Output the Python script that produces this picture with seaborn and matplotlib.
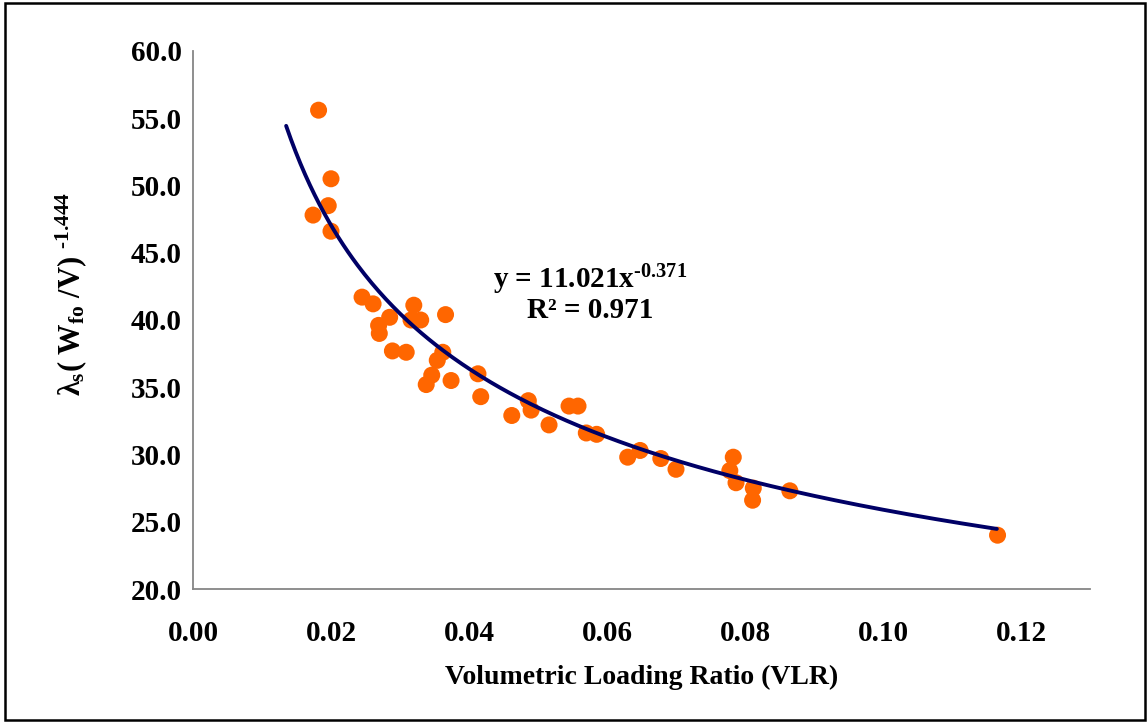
import matplotlib
matplotlib.use("Agg")
import matplotlib.pyplot as plt
import seaborn as sns
import numpy as np
import pandas as pd
from matplotlib.patches import Rectangle

# ---- data ----
vlr = [0.0182, 0.0200, 0.0196, 0.0174, 0.0200, 0.0245, 0.0261, 0.0320, 0.0285,
       0.0316, 0.0330, 0.0366, 0.0269, 0.0270, 0.0289, 0.0309, 0.0362, 0.0354,
       0.0346, 0.0338, 0.0374, 0.0413, 0.0417, 0.0486, 0.0490, 0.0462, 0.0516,
       0.0545, 0.0558, 0.0570, 0.0585, 0.0630, 0.0648, 0.0678, 0.0700, 0.0783,
       0.0778, 0.0787, 0.0812, 0.0811, 0.0865, 0.1166]
lam = [55.6, 50.5, 48.5, 47.8, 46.6, 41.7, 41.2, 41.1, 40.2,
       40.0, 40.0, 40.4, 39.6, 39.0, 37.7, 37.6, 37.6, 37.0,
       35.9, 35.2, 35.5, 36.0, 34.3, 34.0, 33.3, 32.9, 32.2,
       33.6, 33.6, 31.6, 31.5, 29.8, 30.3, 29.7, 28.9, 29.8,
       28.8, 27.9, 27.5, 26.6, 27.3, 24.0]

# power trendline shown on the chart: y = a * x^b
fit_a = 11.021
fit_b = -0.371
fit_x_min = 0.0135
fit_x_max = 0.1165

x_ticks = [0.00, 0.02, 0.04, 0.06, 0.08, 0.10, 0.12]
y_ticks = [20.0, 25.0, 30.0, 35.0, 40.0, 45.0, 50.0, 55.0, 60.0]

# ---- styling ----
sns.set_style("white")
plt.rcParams['font.family'] = ['Liberation Serif', 'DejaVu Serif']
plt.rcParams['font.weight'] = 'bold'
plt.rcParams['text.color'] = 'black'
plt.rcParams['axes.unicode_minus'] = False
plt.rcParams['mathtext.fontset'] = 'custom'
plt.rcParams['mathtext.rm'] = 'Liberation Serif:bold'
plt.rcParams['mathtext.it'] = 'Liberation Serif:bold'
plt.rcParams['mathtext.bf'] = 'Liberation Serif:bold'

fig = plt.figure(figsize=(11.48, 7.23), dpi=100)
W, H = 1148, 723
ax = fig.add_axes([193 / W, 1 - 589 / H, (1090 - 193) / W, (589 - 51) / H])

df = pd.DataFrame({"VLR": vlr, "lam": lam})
fx = np.linspace(fit_x_min, fit_x_max, 300)
fit_df = pd.DataFrame({"VLR": fx, "lam": fit_a * fx ** fit_b})

sns.scatterplot(data=df, x="VLR", y="lam", ax=ax, color="#FF6600", s=150,
                edgecolor="none", zorder=3)
sns.lineplot(data=fit_df, x="VLR", y="lam", ax=ax, color="#000066",
             linewidth=2.8, zorder=4)

ax.set_xlim(0, 0.13)
ax.set_ylim(20, 60)
ax.set_xticks(x_ticks)
ax.set_yticks(y_ticks)
ax.set_xticklabels([f"{v:.2f}" for v in x_ticks])
ax.set_yticklabels([f"{v:.1f}" for v in y_ticks])
ax.set_xlabel("")
ax.set_ylabel("")

for side in ["top", "right"]:
    ax.spines[side].set_visible(False)
for side in ["left", "bottom"]:
    ax.spines[side].set_color("#868686")
    ax.spines[side].set_linewidth(1.3)

ax.tick_params(axis="x", direction="out", length=7, width=1.2, color="#868686",
               pad=15, labelsize=21, labelcolor="black")
ax.tick_params(axis="y", direction="out", length=6, width=1.2, color="#868686",
               pad=2, labelsize=21, labelcolor="black")
for lbl in ax.get_xticklabels() + ax.get_yticklabels():
    lbl.set_fontweight("bold")

fig.text(642 / W, 1 - 677 / H, "Volumetric Loading Ratio (VLR)", ha="center",
         va="center", fontsize=20, fontweight="bold", color="black")
fig.text(71 / W, 1 - 294 / H,
         "$\\lambda_{\\mathrm{s}}$( W$_{\\mathrm{fo}}$ /V) $^{\u2010\\mathrm{1.444}}$",
         ha="center", va="center", rotation=90, fontsize=22, fontweight="bold",
         color="black")

fig.text(590 / W, 1 - 280 / H, "y = 11.021x$^{\u2010\\mathrm{0.371}}$", ha="center",
         va="center", fontsize=21, fontweight="bold", color="black")
fig.text(590 / W, 1 - 311 / H, "R² = 0.971", ha="center", va="center",
         fontsize=21, fontweight="bold", color="black")

fig.patches.append(Rectangle((5 / W, 1 - 720 / H), 1140 / W, 717 / H,
                             transform=fig.transFigure, fill=False,
                             edgecolor="black", linewidth=1.8))

fig.savefig("out.png", dpi=100)
